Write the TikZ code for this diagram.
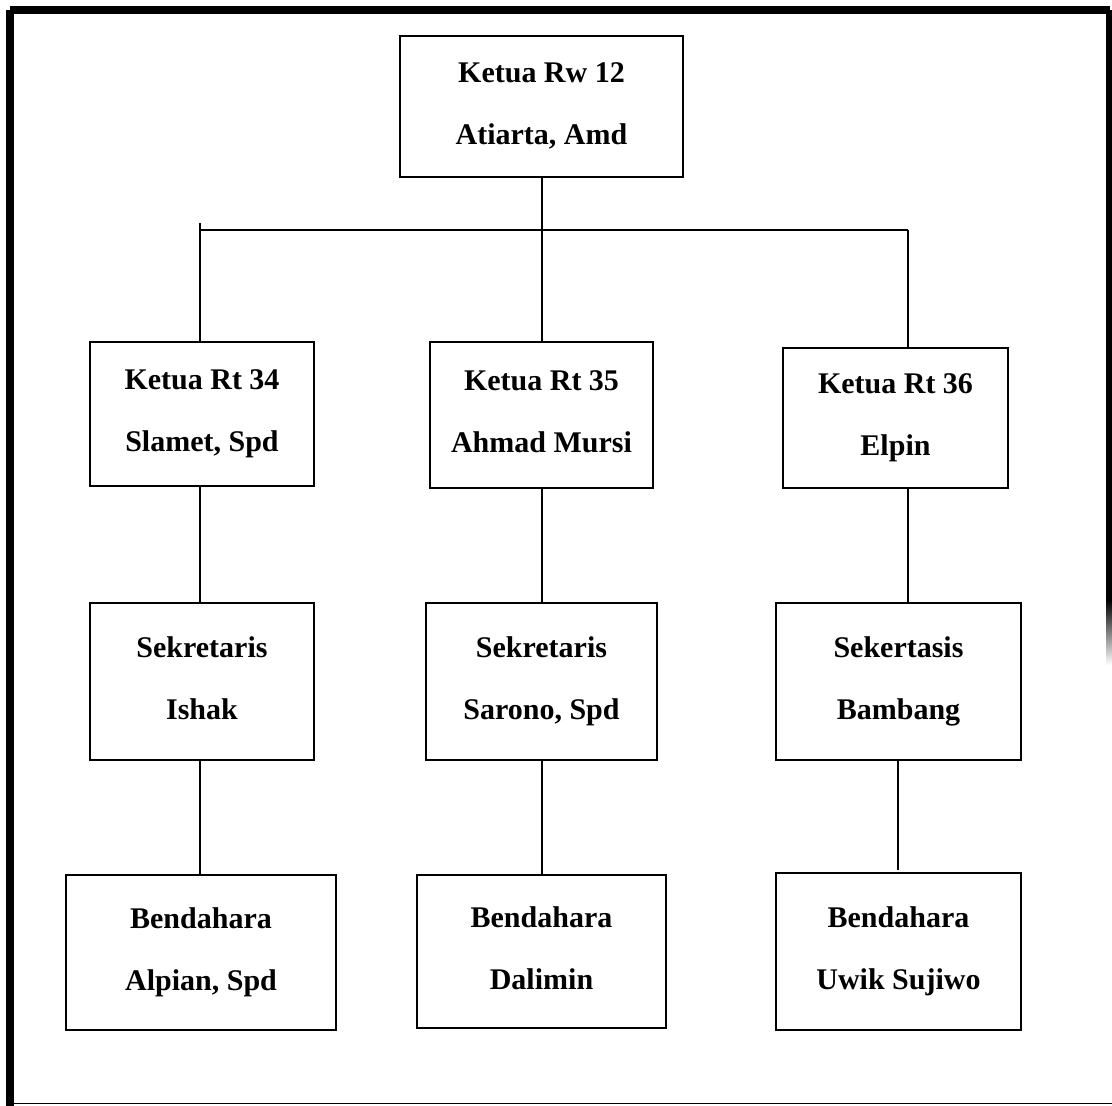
\documentclass[tikz,border=0pt]{standalone}
\usepackage{fontspec}
\setmainfont{Liberation Serif}
\newcommand{\tl}{\vphantom{Ag}}
\begin{document}
\begin{tikzpicture}[x=1pt,y=-1pt,
  orgbox/.style={draw=black, line width=2pt, fill=white, align=center, inner sep=0pt,
    font=\fontsize{30}{62}\selectfont\bfseries},
  conn/.style={line width=2pt}]
\useasboundingbox (0,0) rectangle (1112,1106);
% outer frame
\fill[black] (10,6) rectangle (1110,14);
\fill[black] (6,10) rectangle (14,1106);
\fill[black] (1106,10) rectangle (1112,600);
\shade[top color=black, bottom color=white] (1106,600) rectangle (1112,665);
\draw[line width=1.4pt] (14,1103.5) -- (1112,1103.5);

% boxes
\node[orgbox, minimum width=283pt, minimum height=141pt] (top) at (541.5,106.5) {\tl Ketua Rw 12\\\tl Atiarta, Amd};

\node[orgbox, minimum width=224pt, minimum height=144pt] (a1) at (202,414) {\tl Ketua Rt 34\\\tl Slamet, Spd};
\node[orgbox, minimum width=223pt, minimum height=146pt] (b1) at (541.5,415) {\tl Ketua Rt 35\\\tl Ahmad Mursi};
\node[orgbox, minimum width=225pt, minimum height=140pt] (c1) at (895.5,418) {\tl Ketua Rt 36\\\tl Elpin};

\node[orgbox, minimum width=224pt, minimum height=157pt] (a2) at (202,681.5) {\tl Sekretaris\\\tl Ishak};
\node[orgbox, minimum width=231pt, minimum height=157pt] (b2) at (541.5,681.5) {\tl Sekretaris\\\tl Sarono, Spd};
\node[orgbox, minimum width=245pt, minimum height=157pt] (c2) at (898.5,681.5) {\tl Sekertasis\\\tl Bambang};

\node[orgbox, minimum width=270pt, minimum height=155pt] (a3) at (201,952.5) {\tl Bendahara\\\tl Alpian, Spd};
\node[orgbox, minimum width=249pt, minimum height=153pt] (b3) at (541.5,951.5) {\tl Bendahara\\\tl Dalimin};
\node[orgbox, minimum width=245pt, minimum height=157pt] (c3) at (898.5,951.5) {\tl Bendahara\\\tl Uwik Sujiwo};

% guide coordinates
\coordinate (xL) at (200,0);
\coordinate (xM) at (541.5,0);
\coordinate (xR) at (908,0);
\coordinate (xR2) at (898,0);
\coordinate (bus) at (0,230);
\coordinate (busTop) at (0,223);

% connectors
\draw[conn] (top.south) -- (b1.north);
\draw[conn] (bus -| xL) -- (bus -| xR);
\draw[conn] (busTop -| xL) -- (a1.north -| xL);
\draw[conn] (bus -| xR) -- (c1.north -| xR);

\draw[conn] (a1.south -| xL) -- (a2.north -| xL);
\draw[conn] (b1.south -| xM) -- (b2.north -| xM);
\draw[conn] (c1.south -| xR) -- (c2.north -| xR);

\draw[conn] (a2.south -| xL) -- (a3.north -| xL);
\draw[conn] (b2.south -| xM) -- (b3.north -| xM);
\coordinate (c3top) at (0,870);
\draw[conn] (c2.south -| xR2) -- (c3top -| xR2);
\end{tikzpicture}
\end{document}
